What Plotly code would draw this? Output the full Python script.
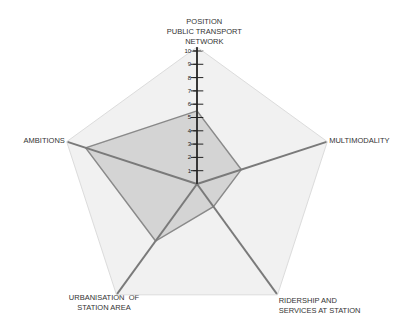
import plotly.graph_objects as go

categories = [
    "POSITION<br>PUBLIC TRANSPORT<br>NETWORK",
    "MULTIMODALITY",
    "RIDERSHIP AND<br>SERVICES AT STATION",
    "URBANISATION  OF<br>STATION AREA",
    "AMBITIONS",
]
values = [5.5, 3.5, 2.1, 5.3, 8.8]
radial_ticks = [1, 2, 3, 4, 5, 6, 7, 8, 9, 10]
r_max = 10.3

NB = "\u00a0"

fig = go.Figure()

# data polygon
fig.add_trace(go.Scatterpolar(
    r=values + values[:1],
    theta=categories + categories[:1],
    mode="lines",
    fill="toself",
    fillcolor="#d4d4d4",
    line=dict(color="#8a8a8a", width=1.5),
    hoverinfo="skip",
))

# spokes
for c in categories:
    fig.add_trace(go.Scatterpolar(
        r=[0, r_max],
        theta=[c, c],
        mode="lines",
        line=dict(color="#7a7a7a", width=2),
        hoverinfo="skip",
    ))

# crossing tick marks on vertical axis
fig.add_trace(go.Scatterpolar(
    r=radial_ticks,
    theta=[categories[0]] * len(radial_ticks),
    mode="markers",
    marker=dict(symbol="line-ew", size=9, line=dict(color="#222222", width=1)),
    hoverinfo="skip",
))

# bottom-left category label, roughly centred under its vertex
bl_label = "<br>".join(line + NB * 12 for line in categories[3].split("<br>"))
fig.add_trace(go.Scatterpolar(
    r=[r_max],
    theta=[categories[3]],
    mode="text",
    text=[bl_label],
    textposition="bottom center",
    textfont=dict(size=7.5, color="#333333", family="Liberation Sans, Arial, sans-serif"),
    cliponaxis=False,
    hoverinfo="skip",
))

tick_text = []
for i, c in enumerate(categories):
    if i == 3:
        tick_text.append("")
    elif i == 0:
        tick_text.append("<br>".join(NB * 7 + line for line in c.split("<br>")))
    else:
        tick_text.append(c)

fig.update_layout(
    width=405,
    height=317,
    margin=dict(l=0, r=27, t=39, b=4),
    paper_bgcolor="white",
    showlegend=False,
    font=dict(family="Liberation Sans, Arial, sans-serif", color="#333333"),
    polar=dict(
        bgcolor="#f1f1f1",
        gridshape="linear",
        radialaxis=dict(
            range=[0, r_max],
            angle=90,
            side="counterclockwise",
            tickangle=90,
            tickvals=radial_ticks,
            ticktext=[str(t) for t in radial_ticks],
            tickfont=dict(size=6, color="#222222"),
            ticks="outside",
            ticklen=3,
            tickcolor="#222222",
            showline=True,
            linecolor="#222222",
            linewidth=1.5,
            showgrid=False,
            layer="above traces",
        ),
        angularaxis=dict(
            direction="clockwise",
            rotation=90,
            showgrid=False,
            showline=True,
            linecolor="#dcdcdc",
            linewidth=1,
            ticks="",
            tickmode="array",
            tickvals=categories,
            ticktext=tick_text,
            tickfont=dict(size=7.5, color="#333333"),
        ),
    ),
)

fig.write_html("out.html")
